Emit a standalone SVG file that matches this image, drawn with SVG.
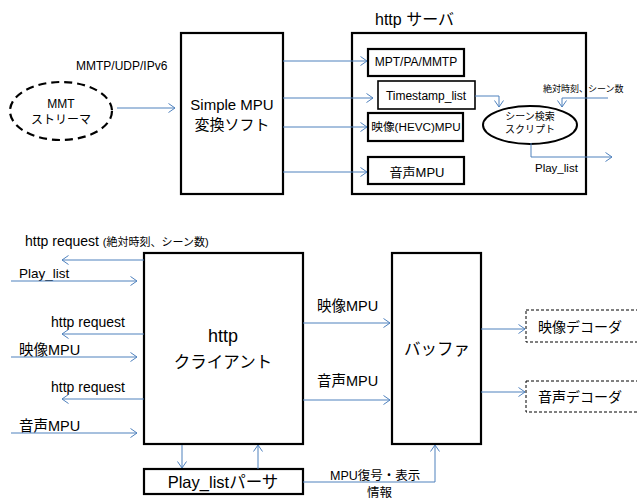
<svg xmlns="http://www.w3.org/2000/svg" width="637" height="500" viewBox="0 0 637 500">
<defs>
<style>
.t{font-family:"Liberation Sans","Noto Sans CJK JP",sans-serif;fill:#000}
.box{fill:#fff;stroke:#000;stroke-width:2.2}
.thin{fill:#fff;stroke:#000;stroke-width:1.6}
.dash{fill:#fff;stroke:#000;stroke-width:1;stroke-dasharray:3,2}
.c{fill:none;stroke:#4F81BD;stroke-width:1}
</style>
<marker id="ah" viewBox="0 0 8 10" refX="7" refY="5" markerWidth="8" markerHeight="10" markerUnits="userSpaceOnUse" orient="auto">
<path d="M0.5,0.5 L7,5 L0.5,9.5" fill="none" stroke="#4F81BD" stroke-width="1"/>
</marker>
</defs>
<rect width="637" height="500" fill="#fff"/>

<g id="stream">
<ellipse cx="61" cy="111" rx="51" ry="29" fill="#fff" stroke="#000" stroke-width="2.2" stroke-dasharray="8,5"/>
<text class="t" x="61" y="108" font-size="12" text-anchor="middle">MMT</text>
<text class="t" x="61" y="124" font-size="12" text-anchor="middle">ストリーマ</text>
</g>
<text class="t" x="76" y="70" font-size="12">MMTP/UDP/IPv6</text>

<g id="simplempu">
<rect class="box" x="181" y="33" width="102" height="161"/>
<text class="t" x="232" y="110" font-size="15" text-anchor="middle">Simple MPU</text>
<text class="t" x="232" y="130" font-size="15" text-anchor="middle">変換ソフト</text>
</g>

<g id="server">
<rect class="box" x="352" y="33" width="234" height="161"/>
<text class="t" x="375" y="25" font-size="16">http サーバ</text>
</g>
<g id="mpt">
<rect class="box" x="368" y="49" width="96" height="27"/>
<text class="t" x="416" y="66" font-size="12" text-anchor="middle">MPT/PA/MMTP</text>
</g>
<g id="timestamp">
<rect class="thin" x="378" y="81" width="97" height="28"/>
<text class="t" x="426" y="100" font-size="12" text-anchor="middle">Timestamp_list</text>
</g>
<g id="video">
<rect class="box" x="368" y="113" width="95" height="28"/>
<text class="t" x="416" y="131" font-size="11.7" text-anchor="middle">映像(HEVC)MPU</text>
</g>
<g id="audio">
<rect class="box" x="368" y="157" width="96" height="27"/>
<text class="t" x="417" y="177" font-size="13" text-anchor="middle">音声MPU</text>
</g>
<g id="script">
<ellipse cx="530" cy="125" rx="47" ry="19" fill="#fff" stroke="#000" stroke-width="2"/>
<text class="t" x="530" y="120" font-size="10" text-anchor="middle">シーン検索</text>
<text class="t" x="530" y="133" font-size="10" text-anchor="middle">スクリプト</text>
</g>
<text class="t" x="543" y="92" font-size="9">絶対時刻、シーン数</text>
<text class="t" x="535" y="172" font-size="11.5">Play_list</text>

<g id="client">
<rect class="box" x="144" y="253" width="159" height="191"/>
<text class="t" x="223" y="342" font-size="18" text-anchor="middle">http</text>
<text class="t" x="223" y="368" font-size="16.5" text-anchor="middle">クライアント</text>
</g>
<g id="parser">
<rect class="box" x="144" y="469" width="159" height="25"/>
<text class="t" x="223" y="488" font-size="16.5" text-anchor="middle">Play_listパーサ</text>
</g>
<g id="buffer">
<rect class="box" x="392" y="253" width="89" height="191"/>
<text class="t" x="437" y="355" font-size="16.5" text-anchor="middle">バッファ</text>
</g>
<g id="vdec">
<rect class="dash" x="526" y="310" width="130" height="32"/>
<text class="t" x="538" y="332" font-size="14">映像デコーダ</text>
</g>
<g id="adec">
<rect class="dash" x="526" y="381" width="130" height="31"/>
<text class="t" x="538" y="402" font-size="14">音声デコーダ</text>
</g>

<text class="t" x="25" y="246" font-size="14">http request <tspan font-size="11">(絶対時刻、シーン数)</tspan></text>
<text class="t" x="19" y="278" font-size="13.5">Play_list</text>
<text class="t" x="51" y="327" font-size="14">http request</text>
<text class="t" x="19" y="355" font-size="14.5">映像MPU</text>
<text class="t" x="51" y="392" font-size="14">http request</text>
<text class="t" x="19" y="431" font-size="14.5">音声MPU</text>
<text class="t" x="317" y="311" font-size="14.5">映像MPU</text>
<text class="t" x="317" y="386" font-size="14.5">音声MPU</text>
<text class="t" x="330" y="480" font-size="12.5">MPU復号・表示</text>
<text class="t" x="367" y="497" font-size="12.5">情報</text>

<g id="connectors">
<path class="c" d="M117,108 H175" marker-end="url(#ah)"/>
<path class="c" d="M283,61 H367" marker-end="url(#ah)"/>
<path class="c" d="M283,98 H373" marker-end="url(#ah)"/>
<path class="c" d="M283,127 H367" marker-end="url(#ah)"/>
<path class="c" d="M283,172 H367" marker-end="url(#ah)"/>
<path class="c" d="M475,96 H499 V107" marker-end="url(#ah)"/>
<path class="c" d="M608,98 H562 V107" marker-end="url(#ah)"/>
<path class="c" d="M531,143 V157 H612" marker-end="url(#ah)"/>
<path class="c" d="M144,260 H62" marker-end="url(#ah)"/>
<path class="c" d="M11,281 H137" marker-end="url(#ah)"/>
<path class="c" d="M144,334 H62" marker-end="url(#ah)"/>
<path class="c" d="M11,357 H137" marker-end="url(#ah)"/>
<path class="c" d="M144,399 H62" marker-end="url(#ah)"/>
<path class="c" d="M11,433 H137" marker-end="url(#ah)"/>
<path class="c" d="M182,445 V468" marker-end="url(#ah)"/>
<path class="c" d="M258,469 V445" marker-end="url(#ah)"/>
<path class="c" d="M303,323 H390" marker-end="url(#ah)"/>
<path class="c" d="M303,400 H390" marker-end="url(#ah)"/>
<path class="c" d="M481,329 H525" marker-end="url(#ah)"/>
<path class="c" d="M481,392 H525" marker-end="url(#ah)"/>
<path class="c" d="M303,482 H435 V445" marker-end="url(#ah)"/>
</g>
</svg>
